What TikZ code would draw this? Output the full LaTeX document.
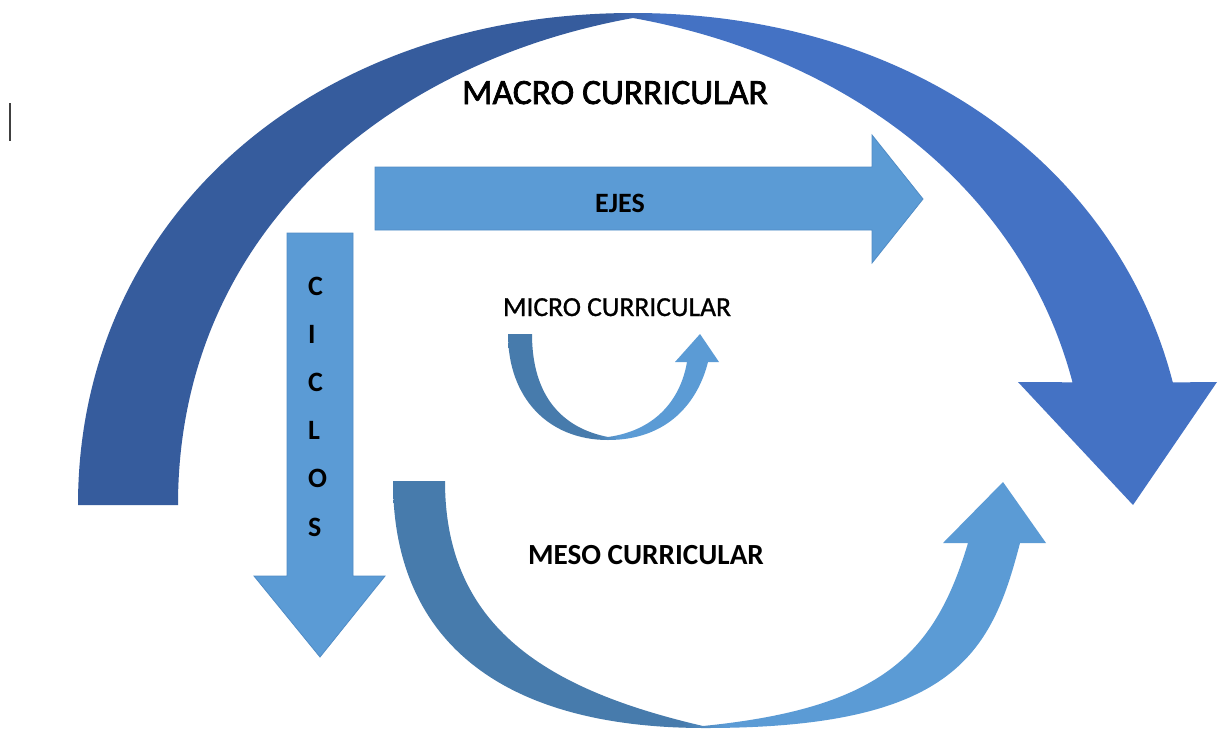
\documentclass[tikz,border=0pt]{standalone}
\usepackage{fontspec}
\setmainfont{Carlito}
\newfontfamily\macrofont[FakeBold=2]{Carlito}
\newfontfamily\microfont[FakeBold=0.9]{Carlito}
\definecolor{macL}{RGB}{54,92,157}
\definecolor{macR}{RGB}{68,114,196}
\definecolor{mesL}{RGB}{71,123,172}
\definecolor{mesR}{RGB}{91,155,213}
\definecolor{boxfill}{RGB}{91,155,213}
\definecolor{boxline}{RGB}{80,140,198}
\pgfdeclarehorizontalshading{macroshade}{100bp}{color(0bp)=(macL); color(48.1bp)=(macL); color(50.5bp)=(macR); color(100bp)=(macR)}
\pgfdeclarehorizontalshading{mesoshade}{100bp}{color(0bp)=(mesL); color(47.1bp)=(mesL); color(50.5bp)=(mesR); color(100bp)=(mesR)}
\pgfdeclarehorizontalshading{microshade}{100bp}{color(0bp)=(mesL); color(45.6bp)=(mesL); color(51.5bp)=(mesR); color(100bp)=(mesR)}
\begin{document}
\begin{tikzpicture}[x=1pt,y=-1pt,
  lbl/.style={anchor=base, inner sep=0pt, text=black},
  letter/.style={anchor=base west, inner sep=0pt, text=black, font=\fontsize{28}{30}\selectfont\bfseries},
  straightarrow/.style={fill=boxfill, draw=boxline, line width=0.8pt},
  curvedarrow/.style={draw=none}]
\useasboundingbox (0,0) rectangle (1218,729);
\fill[white] (0,0) rectangle (1218,729);

% big macro arc
\shade[shading=macroshade, curvedarrow]
  (78,505) .. controls (78,219.6) and (311.1,13) .. (633,13)
  .. controls (906.6,13) and (1116.0,162.3) .. (1172.8,382.4)
  -- (1217,382) -- (1133,505) -- (1018,382) -- (1072.5,382.3)
  .. controls (1020.4,184.0) and (842.5,55.7) .. (633,18)
  .. controls (383,63) and (178,237) .. (178,505) -- cycle;

% EJES arrow
\draw[straightarrow] (375,167) -- (872,167) -- (872,135) -- (923,199) -- (872,263) -- (872,230) -- (375,230) -- cycle;

% CICLOS arrow
\draw[straightarrow] (287,233) -- (353,233) -- (353,576) -- (385,576) -- (320,657) -- (254,576) -- (287,576) -- cycle;

% micro curved arrow
\shade[shading=microshade, curvedarrow]
  (508,334) .. controls (508,397.6) and (548,440) .. (608,440)
  .. controls (668,440) and (698,402) .. (708,362)
  -- (719,362) -- (700,334) -- (675,362) -- (687,362)
  .. controls (681,397) and (658,430) .. (608,437)
  .. controls (562,428) and (532,396) .. (532,334) -- cycle;

% meso curved arrow
\shade[shading=mesoshade, curvedarrow]
  (393,481) .. controls (393,641.6) and (502.2,728) .. (705,728)
  .. controls (955,728) and (991.4,653) .. (1020,543)
  -- (1046,543) -- (1003,482) -- (943,543) -- (968,543)
  .. controls (935,653) and (883,708) .. (703,726)
  .. controls (548,690) and (445,628) .. (445,481) -- cycle;

% labels
\node[lbl, font=\macrofont\fontsize{35.5}{38}\selectfont] (macro) at (615,104) {MACRO CURRICULAR};
\node[lbl, font=\fontsize{28}{30}\selectfont\bfseries] (ejes) at (620,212) {EJES};
\node[lbl, font=\microfont\fontsize{27.5}{30}\selectfont] (micro) at (617,316) {MICRO CURRICULAR};
\node[lbl, font=\fontsize{29.2}{31}\selectfont\bfseries] (meso) at (646,564) {MESO CURRICULAR};
\foreach \l [count=\i] in {C,I,C,L,O,S}
  \node[letter] (ciclos\i) at (308,{295+48.2*(\i-1)}) {\l};

% text cursor mark
\draw[line width=2pt, black!75] (10,103) -- (10,141);
\end{tikzpicture}
\end{document}
